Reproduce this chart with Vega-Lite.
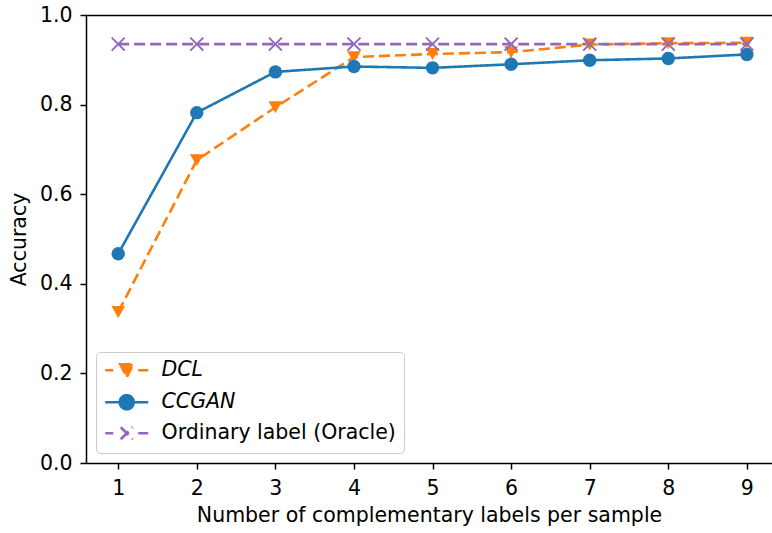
{
  "$schema": "https://vega.github.io/schema/vega-lite/v6.json",
  "autosize": {"type": "none"},
  "padding": {"left": 86, "top": 15, "right": 0, "bottom": 70},
  "width": 686,
  "height": 448,
  "background": "white",
  "config": {
    "view": {"stroke": null},
    "font": "DejaVu Sans",
    "axis": {
      "domainColor": "black", "domainWidth": 1.5, "tickColor": "black", "tickWidth": 1.5, "tickSize": 6,
      "labelColor": "black", "labelFont": "DejaVu Sans", "labelFontSize": 20.5,
      "titleColor": "black", "titleFont": "DejaVu Sans", "titleFontSize": 20.5, "titleFontWeight": "normal",
      "grid": false
    },
    "legend": {"labelFont": "DejaVu Sans"}
  },
  "data": {"values": [
    {"k": 1, "series": "DCL", "acc": 0.337}, {"k": 2, "series": "DCL", "acc": 0.676}, {"k": 3, "series": "DCL", "acc": 0.794},
    {"k": 4, "series": "DCL", "acc": 0.906}, {"k": 5, "series": "DCL", "acc": 0.913}, {"k": 6, "series": "DCL", "acc": 0.917},
    {"k": 7, "series": "DCL", "acc": 0.934}, {"k": 8, "series": "DCL", "acc": 0.937}, {"k": 9, "series": "DCL", "acc": 0.938},
    {"k": 1, "series": "CCGAN", "acc": 0.467}, {"k": 2, "series": "CCGAN", "acc": 0.782}, {"k": 3, "series": "CCGAN", "acc": 0.873},
    {"k": 4, "series": "CCGAN", "acc": 0.885}, {"k": 5, "series": "CCGAN", "acc": 0.882}, {"k": 6, "series": "CCGAN", "acc": 0.890},
    {"k": 7, "series": "CCGAN", "acc": 0.899}, {"k": 8, "series": "CCGAN", "acc": 0.903}, {"k": 9, "series": "CCGAN", "acc": 0.912},
    {"k": 1, "series": "Ordinary label (Oracle)", "acc": 0.935}, {"k": 2, "series": "Ordinary label (Oracle)", "acc": 0.935},
    {"k": 3, "series": "Ordinary label (Oracle)", "acc": 0.935}, {"k": 4, "series": "Ordinary label (Oracle)", "acc": 0.935},
    {"k": 5, "series": "Ordinary label (Oracle)", "acc": 0.935}, {"k": 6, "series": "Ordinary label (Oracle)", "acc": 0.935},
    {"k": 7, "series": "Ordinary label (Oracle)", "acc": 0.935}, {"k": 8, "series": "Ordinary label (Oracle)", "acc": 0.935},
    {"k": 9, "series": "Ordinary label (Oracle)", "acc": 0.935}
  ]},
  "resolve": {"axis": {"x": "independent"}},
  "layer": [
    {
      "mark": {"type": "line", "strokeWidth": 2.6},
      "encoding": {
        "x": {"field": "k", "type": "quantitative", "scale": {"domain": [0.59, 9.32], "nice": false, "zero": false},
              "axis": {"values": [1,2,3,4,5,6,7,8,9], "format": "d", "title": "Number of complementary labels per sample", "labelPadding": 9, "titlePadding": 7}},
        "y": {"field": "acc", "type": "quantitative", "scale": {"domain": [0, 1], "nice": false},
              "axis": {"values": [0, 0.2, 0.4, 0.6, 0.8, 1.0], "format": ".1f", "title": "Accuracy", "labelPadding": 8, "titlePadding": 10}},
        "color": {"field": "series", "type": "nominal",
          "scale": {"domain": ["DCL", "CCGAN", "Ordinary label (Oracle)"], "range": ["#ff7f0e", "#1f77b4", "#9467bd"]},
          "legend": {
            "title": null, "orient": "bottom-left", "offset": 10,
            "fillColor": "white", "strokeColor": "#cccccc", "cornerRadius": 4, "padding": 8,
            "labelFontSize": 20.5, "labelColor": "black", "labelOffset": 37, "labelLimit": 400, "rowPadding": 7,
            "symbolSize": 100, "symbolStrokeWidth": 2,
            "encode": {
              "symbols": {"update": {
                "size": {"value": 256},
                "shape": {"signal": "datum.value == 'DCL' ? 'M-1.125,0H-0.125M3.0,0H4.25M0.75,-0.75L2.375,-0.75L1.5625,0.875Z' : datum.value == 'CCGAN' ? 'M-1.125,0H4.25M0.6875,0A0.875,0.875 0 1,0 2.4375,0A0.875,0.875 0 1,0 0.6875,0Z' : 'M-1.125,0H-0.125M3.0,0H4.25M0.8125,-0.75L2.3125,0.75M0.8125,0.75L2.3125,-0.75'"},
                "fill": {"signal": "datum.value == 'DCL' ? '#ff7f0e' : datum.value == 'CCGAN' ? '#1f77b4' : '#9467bd'"},
                "stroke": {"signal": "datum.value == 'DCL' ? '#ff7f0e' : datum.value == 'CCGAN' ? '#1f77b4' : '#9467bd'"},
                "strokeWidth": {"value": 2.6},
                "strokeDash": {"value": []},
                "fillOpacity": {"value": 1}
              }},
              "labels": {"update": {"fontStyle": {"signal": "datum.value == 'Ordinary label (Oracle)' ? 'normal' : 'italic'"}}}
            }
          }},
        "strokeDash": {"field": "series", "type": "nominal",
          "scale": {"domain": ["DCL", "CCGAN", "Ordinary label (Oracle)"], "range": [[11, 5], [1, 0], [11, 5]]},
          "legend": null}
      }
    },
    {
      "transform": [{"filter": "datum.series != 'Ordinary label (Oracle)'"}],
      "mark": {"type": "point", "filled": true, "opacity": 1},
      "encoding": {
        "x": {"field": "k", "type": "quantitative", "axis": null},
        "y": {"field": "acc", "type": "quantitative"},
        "color": {"field": "series", "type": "nominal"},
        "shape": {"field": "series", "type": "nominal",
          "scale": {"domain": ["DCL", "CCGAN"], "range": ["triangle-down", "circle"]}, "legend": null},
        "size": {"field": "series", "type": "nominal",
          "scale": {"domain": ["DCL", "CCGAN"], "range": [190, 180]}, "legend": null}
      }
    },
    {
      "transform": [{"filter": "datum.series == 'Ordinary label (Oracle)'"}],
      "mark": {"type": "point", "filled": false, "shape": "M-1,-1L1,1M-1,1L1,-1", "size": 169, "strokeWidth": 2, "opacity": 1, "color": "#9467bd"},
      "encoding": {
        "x": {"field": "k", "type": "quantitative",
              "axis": {"orient": "top", "labels": false, "ticks": false, "title": null, "domain": true}},
        "y": {"field": "acc", "type": "quantitative"}
      }
    }
  ]
}
